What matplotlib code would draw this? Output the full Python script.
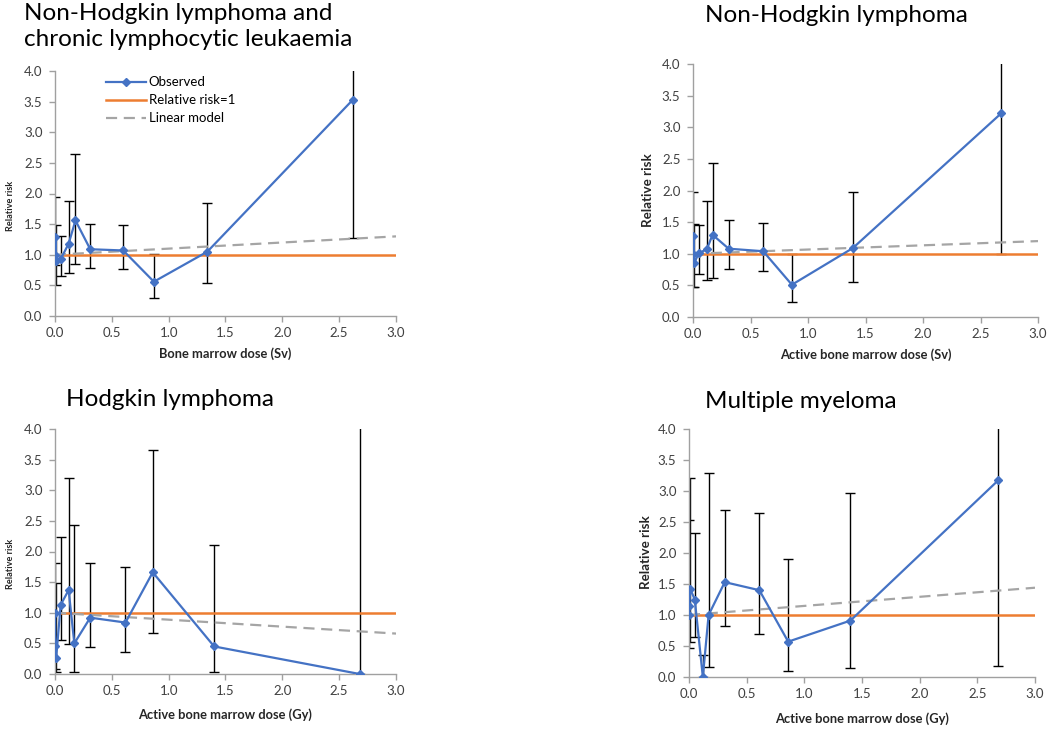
import numpy as np
import matplotlib
matplotlib.use("Agg")
import matplotlib.pyplot as plt

plt.rcParams['font.family'] = ['Lato', 'DejaVu Sans']

BLUE = '#4472C4'
ORANGE = '#ED7D31'
GREY = '#A5A5A5'

# ---------------- data ----------------
titles = ["Non-Hodgkin lymphoma and\nchronic lymphocytic leukaemia",
          "Non-Hodgkin lymphoma",
          "Hodgkin lymphoma",
          "Multiple myeloma"]
xlabels = ["Bone marrow dose (Sv)",
           "Active bone marrow dose (Sv)",
           "Active bone marrow dose (Gy)",
           "Active bone marrow dose (Gy)"]

# Panel 1: NHL + CLL
dose1 = [0.0, 0.003, 0.01, 0.05, 0.12, 0.18, 0.31, 0.60, 0.87, 1.34, 2.62]
rr1   = [1.0, 1.29, 0.89, 0.93, 1.18, 1.56, 1.09, 1.07, 0.56, 1.05, 3.53]
lo1   = [np.nan, 0.83, 0.51, 0.65, 0.70, 0.85, 0.78, 0.76, 0.29, 0.54, 1.27]
hi1   = [np.nan, 1.95, 1.49, 1.30, 1.87, 2.65, 1.50, 1.49, 1.02, 1.85, 4.50]
lin_x1 = [0.0, 3.0]
lin_y1 = [1.0, 1.30]

# Panel 2: NHL
dose2 = [0.0, 0.003, 0.01, 0.05, 0.12, 0.17, 0.31, 0.61, 0.86, 1.39, 2.68]
rr2   = [1.0, 1.28, 0.85, 1.01, 1.07, 1.30, 1.08, 1.04, 0.51, 1.09, 3.22]
lo2   = [np.nan, 0.47, 0.47, 0.68, 0.59, 0.62, 0.76, 0.73, 0.23, 0.55, 1.00]
hi2   = [np.nan, 1.97, 1.47, 1.46, 1.83, 2.43, 1.53, 1.49, 1.00, 1.97, 4.50]
lin_x2 = [0.0, 3.0]
lin_y2 = [1.0, 1.20]

# Panel 3: Hodgkin lymphoma
dose3 = [0.0, 0.003, 0.01, 0.05, 0.12, 0.17, 0.31, 0.62, 0.86, 1.40, 2.68]
rr3   = [1.0, 0.45, 0.26, 1.13, 1.37, 0.50, 0.92, 0.84, 1.66, 0.45, 0.0]
lo3   = [np.nan, 0.08, 0.03, 0.55, 0.49, 0.03, 0.44, 0.36, 0.67, 0.03, 0.0]
hi3   = [np.nan, 1.82, 1.49, 2.24, 3.20, 2.43, 1.81, 1.75, 3.65, 2.10, 4.50]
lin_x3 = [0.0, 3.0]
lin_y3 = [1.0, 0.66]

# Panel 4: Multiple myeloma
dose4 = [0.0, 0.003, 0.01, 0.05, 0.12, 0.17, 0.31, 0.61, 0.86, 1.40, 2.68]
rr4   = [1.0, 1.14, 1.42, 1.25, 0.0, 1.0, 1.53, 1.40, 0.57, 0.91, 3.17]
lo4   = [np.nan, 0.46, 0.57, 0.65, 0.0, 0.16, 0.83, 0.70, 0.10, 0.15, 0.18]
hi4   = [np.nan, 2.53, 3.21, 2.33, 0.35, 3.29, 2.69, 2.64, 1.90, 2.97, 4.50]
lin_x4 = [0.0, 3.0]
lin_y4 = [1.0, 1.44]

ref_x = [0.0, 3.0]
ref_y = [1.0, 1.0]

yticks = [0.0, 0.5, 1.0, 1.5, 2.0, 2.5, 3.0, 3.5, 4.0]
xticks = [0.0, 0.5, 1.0, 1.5, 2.0, 2.5, 3.0]

panels = [(dose1, rr1, lo1, hi1, lin_x1, lin_y1),
          (dose2, rr2, lo2, hi2, lin_x2, lin_y2),
          (dose3, rr3, lo3, hi3, lin_x3, lin_y3),
          (dose4, rr4, lo4, hi4, lin_x4, lin_y4)]

# ---------------- layout (pixels) ----------------
W, H = 1050, 731
fig = plt.figure(figsize=(W / 100, H / 100), dpi=100)

# (left, right, top, bottom) in pixels
boxes = [(55, 396, 71, 316),
         (693, 1038, 64, 317),
         (55, 396, 429, 674),
         (689, 1035, 429, 677)]
title_pos = [(24, 3), (705, 5), (66, 389), (705, 391)]
ylab_x = [11, 648, 11, 646]
ylab_y = [206, 190, 564, 552]
ylab_fs = [6.6, 9.6, 6.6, 9.6]
xlab_y = [354, 355, 715, 719]

for i, (box, data) in enumerate(zip(boxes, panels)):
    l, r, t, b = box
    ax = fig.add_axes([l / W, 1 - b / H, (r - l) / W, (b - t) / H])
    dose, rr, lo, hi, lx, ly = data
    dose = np.array(dose); rr = np.array(rr)
    lo = np.array(lo); hi = np.array(hi)
    yerr = np.vstack([rr - lo, hi - rr])
    ax.errorbar(dose, rr, yerr=yerr, fmt='none', ecolor='black',
                elinewidth=1.0, capsize=3.5, capthick=1.0, zorder=2)
    ax.plot(ref_x, ref_y, color=ORANGE, lw=1.8, zorder=3,
            label='Relative risk=1')
    ax.plot(lx, ly, color=GREY, lw=1.6, ls=(0, (5, 3)), zorder=3,
            label='Linear model')
    ax.plot(dose, rr, color=BLUE, lw=1.6, marker='D', markersize=4.5,
            zorder=4, label='Observed')
    ax.set_xlim(0, 3.0)
    ax.set_ylim(0, 4.0)
    ax.set_xticks(xticks)
    ax.set_yticks(yticks)
    ax.set_xticklabels([f"{v:.1f}" for v in xticks])
    ax.set_yticklabels([f"{v:.1f}" for v in yticks])
    for s in ['top', 'right']:
        ax.spines[s].set_visible(False)
    for s in ['left', 'bottom']:
        ax.spines[s].set_color('#A0A0A0')
        ax.spines[s].set_linewidth(1.0)
    ax.tick_params(axis='both', colors='#A0A0A0', labelcolor='#404040',
                   labelsize=9.5, length=4, width=1.0, direction='out')
    ax.tick_params(axis='x', pad=4)
    ax.tick_params(axis='y', pad=5)
    fig.text(title_pos[i][0] / W, 1 - title_pos[i][1] / H, titles[i],
             fontsize=17.5, ha='left', va='top', color='black',
             linespacing=1.3)
    fig.text(ylab_x[i] / W, 1 - ylab_y[i] / H, 'Relative risk',
             rotation=90, fontsize=ylab_fs[i], fontweight='bold',
             ha='center', va='center', color='#262626')
    fig.text(((l + r) / 2) / W, 1 - xlab_y[i] / H, xlabels[i],
             fontsize=9.3, fontweight='bold', ha='center', va='center',
             color='#262626')
    if i == 0:
        h, lab = ax.get_legend_handles_labels()
        order = [2, 0, 1]
        ax.legend([h[k] for k in order], [lab[k] for k in order],
                  loc='upper left', bbox_to_anchor=(0.135, 1.0),
                  frameon=False, fontsize=9.5, handlelength=3.0,
                  handletextpad=0.2, labelspacing=0.45,
                  borderaxespad=0.0)

fig.savefig('out.png', dpi=100)
